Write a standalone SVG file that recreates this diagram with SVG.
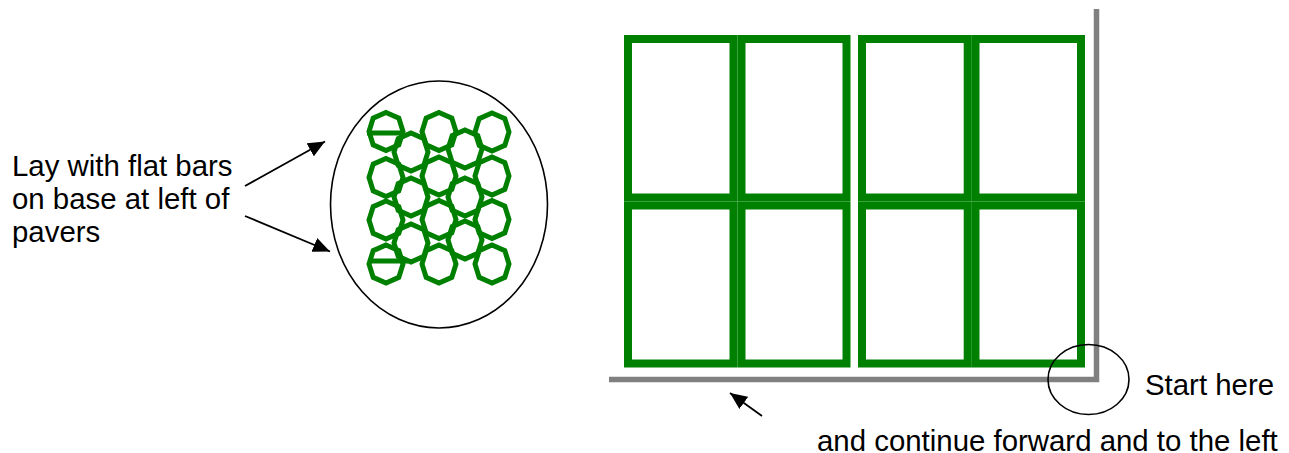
<svg xmlns="http://www.w3.org/2000/svg" xmlns:xlink="http://www.w3.org/1999/xlink" width="1289" height="453" viewBox="0 0 1289 453">
<style>
text{font-family:"Liberation Sans",Arial,sans-serif;font-size:29.4px;fill:#000}
.p{fill:none;stroke:#008000;stroke-width:8}
.d{fill:none;stroke:#008000;stroke-width:5}
.b{stroke:#008000;stroke-width:5}
.g{stroke:#808080;stroke-width:5.500;fill:none}
.k{stroke:#000;stroke-width:1.600;fill:none}
.c{stroke:#000;stroke-width:1.800;fill:none}
</style>
<defs>
<polygon id="oct" points="0,-19 12.800,-13.400 17,0 12.800,13.400 0,19 -12.800,13.400 -17,0 -12.800,-13.400"/>
<marker id="ah" viewBox="0 0 10 10" refX="10" refY="5" markerWidth="17" markerHeight="15" markerUnits="userSpaceOnUse" orient="auto" preserveAspectRatio="none"><path d="M0,0L10,5L0,10Z" fill="#000"/></marker>
</defs>
<rect width="1289" height="453" fill="#fff"/>
<g id="walls"><path class="g" d="M1096.500 9V379.500H609"/></g>
<g id="pavers">
<rect id="paver1" class="p" x="628" y="39" width="105.500" height="158.500"/>
<rect id="paver2" class="p" x="741.500" y="39" width="105" height="158.500"/>
<rect id="paver3" class="p" x="862" y="39" width="105.700" height="158.500"/>
<rect id="paver4" class="p" x="975.500" y="39" width="105.500" height="158.500"/>
<rect id="paver5" class="p" x="628" y="205.500" width="105.500" height="158"/>
<rect id="paver6" class="p" x="741.500" y="205.500" width="105" height="158"/>
<rect id="paver7" class="p" x="862" y="205.500" width="105.700" height="158"/>
<rect id="paver8" class="p" x="975.500" y="205.500" width="105.500" height="158"/>
</g>
<g id="detail">
<ellipse class="k" cx="439" cy="204.500" rx="108.500" ry="123.500"/>
<g class="d">
<use xlink:href="#oct" href="#oct" x="386" y="131.500"/>
<use xlink:href="#oct" href="#oct" x="386" y="177.500"/>
<use xlink:href="#oct" href="#oct" x="386" y="220"/>
<use xlink:href="#oct" href="#oct" x="386" y="264"/>
<use xlink:href="#oct" href="#oct" x="411" y="152"/>
<use xlink:href="#oct" href="#oct" x="411" y="197"/>
<use xlink:href="#oct" href="#oct" x="411" y="243"/>
<use xlink:href="#oct" href="#oct" x="439" y="131.500"/>
<use xlink:href="#oct" href="#oct" x="439" y="176"/>
<use xlink:href="#oct" href="#oct" x="439" y="219.500"/>
<use xlink:href="#oct" href="#oct" x="439" y="264"/>
<use xlink:href="#oct" href="#oct" x="465" y="149"/>
<use xlink:href="#oct" href="#oct" x="465" y="197"/>
<use xlink:href="#oct" href="#oct" x="465" y="240"/>
<use xlink:href="#oct" href="#oct" x="492" y="132"/>
<use xlink:href="#oct" href="#oct" x="492" y="176"/>
<use xlink:href="#oct" href="#oct" x="492" y="219.500"/>
<use xlink:href="#oct" href="#oct" x="492" y="264"/>
</g>
<line class="b" x1="367" y1="133" x2="404" y2="133"/>
<line class="b" x1="369" y1="261" x2="408" y2="261"/>
</g>
<g id="connectors">
<line class="c" x1="245" y1="186" x2="325" y2="141.500" marker-end="url(#ah)"/>
<line class="c" x1="245" y1="216" x2="330" y2="251.500" marker-end="url(#ah)"/>
<line class="c" x1="762" y1="416" x2="730" y2="393" marker-end="url(#ah)"/>
</g>
<g id="start"><ellipse class="k" cx="1088.500" cy="379.500" rx="40.500" ry="35"/></g>
<g id="labels">
<text x="12" y="176">Lay with flat bars</text>
<text x="12" y="208.500">on base at left of</text>
<text x="12" y="241.500">pavers</text>
<text x="1145" y="395">Start here</text>
<text x="817" y="451">and continue forward and to the left</text>
</g>
</svg>
